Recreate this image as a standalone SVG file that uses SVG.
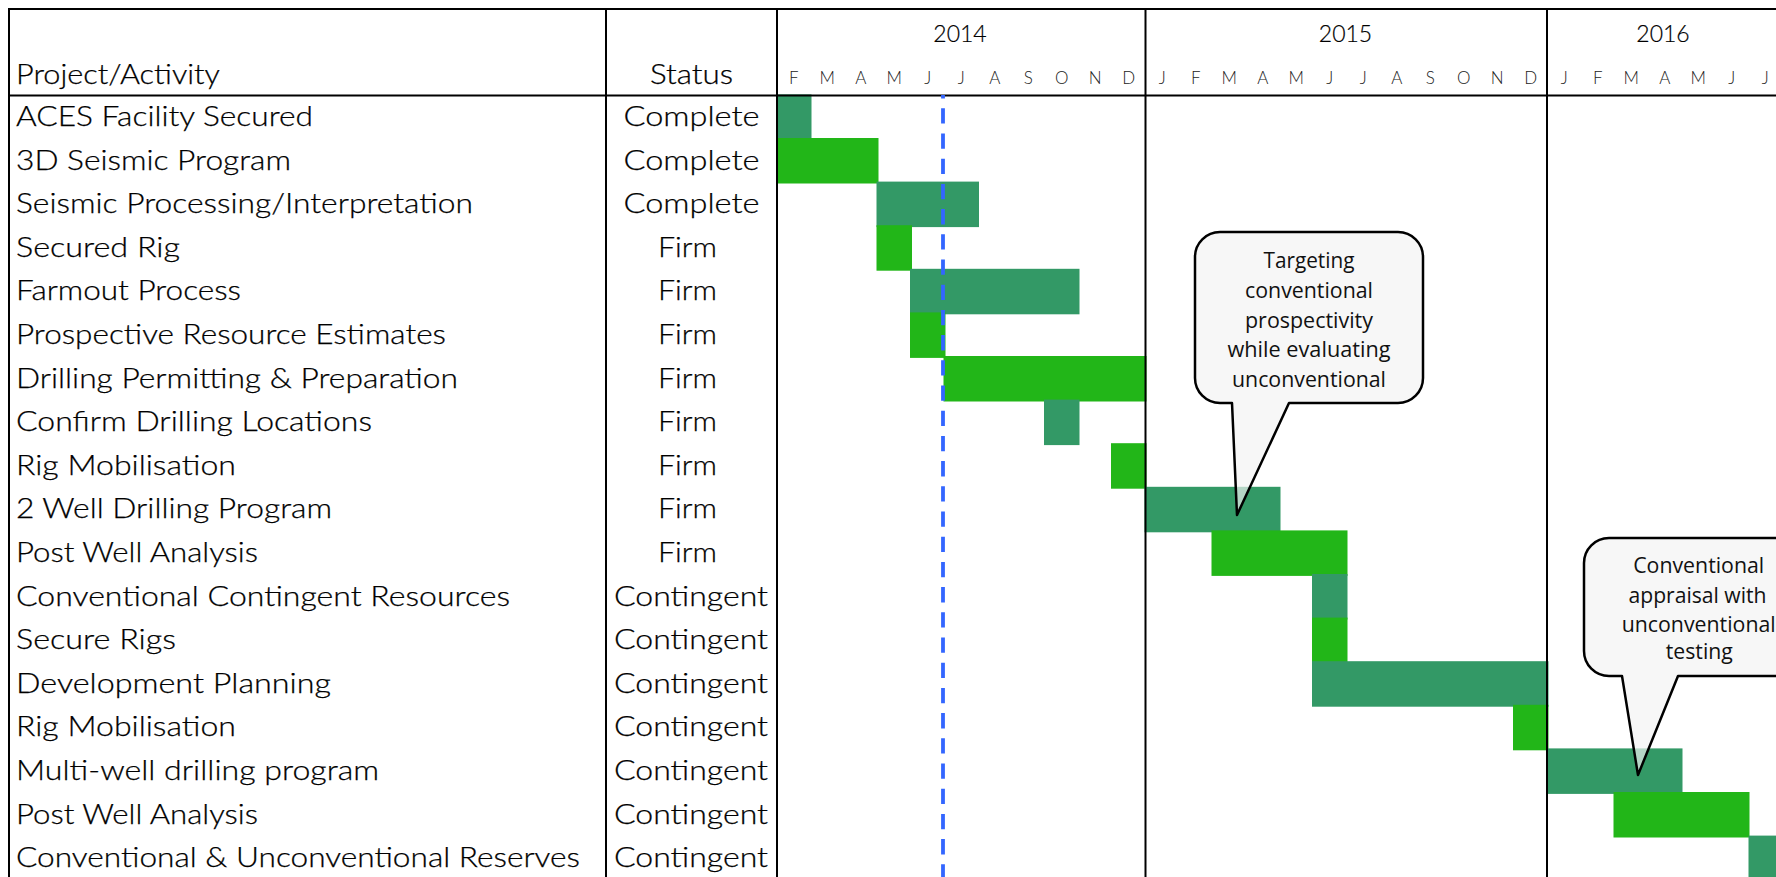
<svg xmlns="http://www.w3.org/2000/svg" width="1776" height="877" viewBox="0 0 1776 877">
<style>
.lbl{font-family:Lato,"Liberation Sans",sans-serif;font-size:27px;font-weight:300;fill:#000;stroke:#000;stroke-width:0.25}
.st{font-family:Lato,"Liberation Sans",sans-serif;font-size:27px;font-weight:300;fill:#000;stroke:#000;stroke-width:0.25;text-anchor:middle}
.yr{font-family:Lato,"Liberation Sans",sans-serif;font-size:23px;font-weight:300;fill:#000;stroke:#000;stroke-width:0.2;text-anchor:middle}
.mo{font-family:Lato,"Liberation Sans",sans-serif;font-size:17px;font-weight:300;fill:#222;text-anchor:middle}
.dk{fill:#339966}
.br{fill:#22B618}
.grid{stroke:#000;stroke-width:2;fill:none}
.call{fill:#f3f3f3;fill-opacity:0.68;stroke:#000;stroke-width:2.5;stroke-linejoin:round}
.ct{font-family:"Open Sans","Liberation Sans",sans-serif;font-size:22px;fill:#111;text-anchor:middle}
</style>
<rect width="1776" height="877" fill="#fff"/>
<g id="bars">
<rect class="dk" x="776" y="94.4" width="35.5" height="45.5"/>
<rect class="br" x="776" y="138" width="102.5" height="45.5"/>
<rect class="dk" x="876.5" y="181.6" width="102.5" height="45.5"/>
<rect class="br" x="876.5" y="225.2" width="35.5" height="45.5"/>
<rect class="dk" x="910" y="268.8" width="169.5" height="45.5"/>
<rect class="br" x="910" y="312.4" width="35.5" height="45.5"/>
<rect class="br" x="943.5" y="356" width="203" height="45.5"/>
<rect class="dk" x="1044" y="399.6" width="35.5" height="45.5"/>
<rect class="br" x="1111" y="443.2" width="35.5" height="45.5"/>
<rect class="dk" x="1144.5" y="486.8" width="136" height="45.5"/>
<rect class="br" x="1211.5" y="530.4" width="136" height="45.5"/>
<rect class="dk" x="1312" y="574" width="35.5" height="45.5"/>
<rect class="br" x="1312" y="617.6" width="35.5" height="45.5"/>
<rect class="dk" x="1312" y="661.2" width="236.5" height="45.5"/>
<rect class="br" x="1513" y="704.8" width="35.5" height="45.5"/>
<rect class="dk" x="1546.5" y="748.4" width="136" height="45.5"/>
<rect class="br" x="1613.5" y="792" width="136" height="45.5"/>
<rect class="dk" x="1748.5" y="835.6" width="35.5" height="45.5"/>
</g>
<g id="grid">
<line class="grid" x1="8" y1="9" x2="1776" y2="9"/>
<line class="grid" x1="8" y1="95.5" x2="1776" y2="95.5"/>
<line class="grid" x1="9" y1="8" x2="9" y2="877"/>
<line class="grid" x1="606" y1="8" x2="606" y2="877"/>
<line class="grid" x1="777" y1="8" x2="777" y2="877"/>
<line class="grid" x1="1145.5" y1="8" x2="1145.5" y2="877"/>
<line class="grid" x1="1547" y1="8" x2="1547" y2="877"/>
</g>
<g id="header">
<text class="lbl" x="16" y="83.5" textLength="204" lengthAdjust="spacingAndGlyphs">Project/Activity</text>
<text class="st" x="691.5" y="83.5" textLength="83" lengthAdjust="spacingAndGlyphs">Status</text>
<text class="yr" x="960" y="42">2014</text>
<text class="yr" x="1345.5" y="42">2015</text>
<text class="yr" x="1663" y="42">2016</text>
<text class="mo" x="793.75" y="83.5">F</text>
<text class="mo" x="827.25" y="83.5">M</text>
<text class="mo" x="860.75" y="83.5">A</text>
<text class="mo" x="894.25" y="83.5">M</text>
<text class="mo" x="927.75" y="83.5">J</text>
<text class="mo" x="961.25" y="83.5">J</text>
<text class="mo" x="994.75" y="83.5">A</text>
<text class="mo" x="1028.25" y="83.5">S</text>
<text class="mo" x="1061.75" y="83.5">O</text>
<text class="mo" x="1095.25" y="83.5">N</text>
<text class="mo" x="1128.75" y="83.5">D</text>
<text class="mo" x="1162.25" y="83.5">J</text>
<text class="mo" x="1195.75" y="83.5">F</text>
<text class="mo" x="1229.25" y="83.5">M</text>
<text class="mo" x="1262.75" y="83.5">A</text>
<text class="mo" x="1296.25" y="83.5">M</text>
<text class="mo" x="1329.75" y="83.5">J</text>
<text class="mo" x="1363.25" y="83.5">J</text>
<text class="mo" x="1396.75" y="83.5">A</text>
<text class="mo" x="1430.25" y="83.5">S</text>
<text class="mo" x="1463.75" y="83.5">O</text>
<text class="mo" x="1497.25" y="83.5">N</text>
<text class="mo" x="1530.75" y="83.5">D</text>
<text class="mo" x="1564.25" y="83.5">J</text>
<text class="mo" x="1597.75" y="83.5">F</text>
<text class="mo" x="1631.25" y="83.5">M</text>
<text class="mo" x="1664.75" y="83.5">A</text>
<text class="mo" x="1698.25" y="83.5">M</text>
<text class="mo" x="1731.75" y="83.5">J</text>
<text class="mo" x="1765.25" y="83.5">J</text>
</g>
<g id="row-labels">
<g id="row1"><text class="lbl" x="16" y="126" textLength="297" lengthAdjust="spacingAndGlyphs">ACES Facility Secured</text><text class="st" x="691.5" y="126" textLength="136" lengthAdjust="spacingAndGlyphs">Complete</text></g>
<g id="row2"><text class="lbl" x="16" y="169.6" textLength="275" lengthAdjust="spacingAndGlyphs">3D Seismic Program</text><text class="st" x="691.5" y="169.6" textLength="136" lengthAdjust="spacingAndGlyphs">Complete</text></g>
<g id="row3"><text class="lbl" x="16" y="213.2" textLength="457" lengthAdjust="spacingAndGlyphs">Seismic Processing/Interpretation</text><text class="st" x="691.5" y="213.2" textLength="136" lengthAdjust="spacingAndGlyphs">Complete</text></g>
<g id="row4"><text class="lbl" x="16" y="256.8" textLength="164" lengthAdjust="spacingAndGlyphs">Secured Rig</text><text class="st" x="687.5" y="256.8" textLength="59" lengthAdjust="spacingAndGlyphs">Firm</text></g>
<g id="row5"><text class="lbl" x="16" y="300.4" textLength="225" lengthAdjust="spacingAndGlyphs">Farmout Process</text><text class="st" x="687.5" y="300.4" textLength="59" lengthAdjust="spacingAndGlyphs">Firm</text></g>
<g id="row6"><text class="lbl" x="16" y="344" textLength="430" lengthAdjust="spacingAndGlyphs">Prospective Resource Estimates</text><text class="st" x="687.5" y="344" textLength="59" lengthAdjust="spacingAndGlyphs">Firm</text></g>
<g id="row7"><text class="lbl" x="16" y="387.6" textLength="442" lengthAdjust="spacingAndGlyphs">Drilling Permitting &amp; Preparation</text><text class="st" x="687.5" y="387.6" textLength="59" lengthAdjust="spacingAndGlyphs">Firm</text></g>
<g id="row8"><text class="lbl" x="16" y="431.2" textLength="356" lengthAdjust="spacingAndGlyphs">Confirm Drilling Locations</text><text class="st" x="687.5" y="431.2" textLength="59" lengthAdjust="spacingAndGlyphs">Firm</text></g>
<g id="row9"><text class="lbl" x="16" y="474.8" textLength="220" lengthAdjust="spacingAndGlyphs">Rig Mobilisation</text><text class="st" x="687.5" y="474.8" textLength="59" lengthAdjust="spacingAndGlyphs">Firm</text></g>
<g id="row10"><text class="lbl" x="16" y="518.4" textLength="316" lengthAdjust="spacingAndGlyphs">2 Well Drilling Program</text><text class="st" x="687.5" y="518.4" textLength="59" lengthAdjust="spacingAndGlyphs">Firm</text></g>
<g id="row11"><text class="lbl" x="16" y="562" textLength="242" lengthAdjust="spacingAndGlyphs">Post Well Analysis</text><text class="st" x="687.5" y="562" textLength="59" lengthAdjust="spacingAndGlyphs">Firm</text></g>
<g id="row12"><text class="lbl" x="16" y="605.6" textLength="494" lengthAdjust="spacingAndGlyphs">Conventional Contingent Resources</text><text class="st" x="691" y="605.6" textLength="154" lengthAdjust="spacingAndGlyphs">Contingent</text></g>
<g id="row13"><text class="lbl" x="16" y="649.2" textLength="160" lengthAdjust="spacingAndGlyphs">Secure Rigs</text><text class="st" x="691" y="649.2" textLength="154" lengthAdjust="spacingAndGlyphs">Contingent</text></g>
<g id="row14"><text class="lbl" x="16" y="692.8" textLength="315" lengthAdjust="spacingAndGlyphs">Development Planning</text><text class="st" x="691" y="692.8" textLength="154" lengthAdjust="spacingAndGlyphs">Contingent</text></g>
<g id="row15"><text class="lbl" x="16" y="736.4" textLength="220" lengthAdjust="spacingAndGlyphs">Rig Mobilisation</text><text class="st" x="691" y="736.4" textLength="154" lengthAdjust="spacingAndGlyphs">Contingent</text></g>
<g id="row16"><text class="lbl" x="16" y="780" textLength="363" lengthAdjust="spacingAndGlyphs">Multi-well drilling program</text><text class="st" x="691" y="780" textLength="154" lengthAdjust="spacingAndGlyphs">Contingent</text></g>
<g id="row17"><text class="lbl" x="16" y="823.6" textLength="242" lengthAdjust="spacingAndGlyphs">Post Well Analysis</text><text class="st" x="691" y="823.6" textLength="154" lengthAdjust="spacingAndGlyphs">Contingent</text></g>
<g id="row18"><text class="lbl" x="16" y="867.2" textLength="564" lengthAdjust="spacingAndGlyphs">Conventional &amp; Unconventional Reserves</text><text class="st" x="691" y="867.2" textLength="154" lengthAdjust="spacingAndGlyphs">Contingent</text></g>
</g>
<g id="today-line">
<line x1="943" y1="95" x2="943" y2="877" stroke="#3366FF" stroke-width="3.8" stroke-dasharray="15.3 9.9" stroke-dashoffset="11.9"/>
</g>
<g id="callout1">
<path class="call" d="M1220,232 H1398 A25,25 0 0 1 1423,257 V378 A25,25 0 0 1 1398,403 H1289 L1237,515 L1232,403 H1220 A25,25 0 0 1 1195,378 V257 A25,25 0 0 1 1220,232 Z"/>
<text class="ct" x="1309" y="268" textLength="91" lengthAdjust="spacingAndGlyphs">Targeting</text>
<text class="ct" x="1309" y="298" textLength="128" lengthAdjust="spacingAndGlyphs">conventional</text>
<text class="ct" x="1309" y="327.7" textLength="128" lengthAdjust="spacingAndGlyphs">prospectivity</text>
<text class="ct" x="1309" y="357.3" textLength="163" lengthAdjust="spacingAndGlyphs">while evaluating</text>
<text class="ct" x="1309" y="387" textLength="154" lengthAdjust="spacingAndGlyphs">unconventional</text>
</g>
<g id="callout2">
<path class="call" d="M1609,538 H1787 A25,25 0 0 1 1812,563 V651 A25,25 0 0 1 1787,676 H1678 L1638,775 L1622,676 H1609 A25,25 0 0 1 1584,651 V563 A25,25 0 0 1 1609,538 Z"/>
<text class="ct" x="1698.7" y="573.3" textLength="131" lengthAdjust="spacingAndGlyphs">Conventional</text>
<text class="ct" x="1697.5" y="602.7" textLength="138" lengthAdjust="spacingAndGlyphs">appraisal with</text>
<text class="ct" x="1698.7" y="631.7" textLength="154" lengthAdjust="spacingAndGlyphs">unconventional</text>
<text class="ct" x="1699.3" y="659.3" textLength="67" lengthAdjust="spacingAndGlyphs">testing</text>
</g>
</svg>
